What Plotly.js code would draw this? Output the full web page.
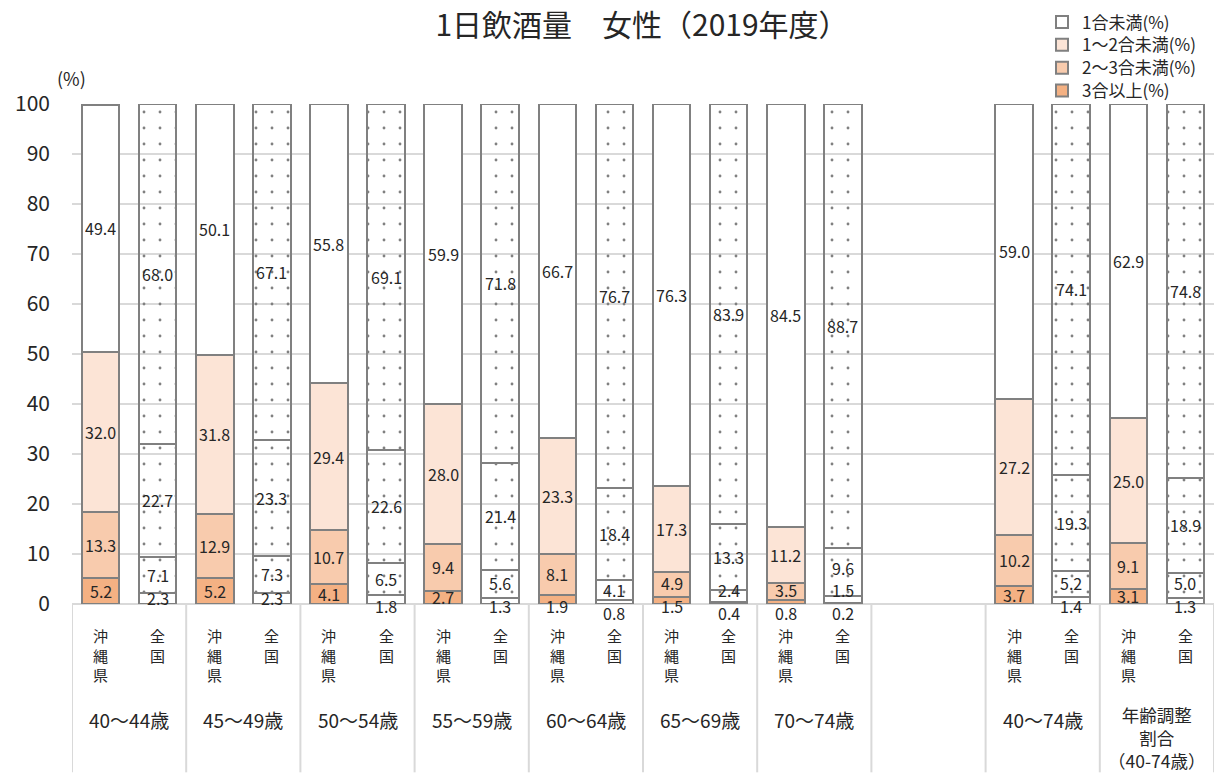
<!DOCTYPE html>
<html><head><meta charset="utf-8">
<script src="https://cdn.plot.ly/plotly-3.0.1.min.js"></script>
<style>html,body{margin:0;padding:0;background:#fff}#chart{width:1218px;height:773px}</style>
</head><body><div id="chart"></div>
<script>
const titleText = '1日飲酒量　女性（2019年度）';
const groups = ['40～44歳','45～49歳','50～54歳','55～59歳','60～64歳','65～69歳','70～74歳','','40～74歳','年齢調整<br>割合<br>（40-74歳）'];
const regions = ['沖縄県','全国'];
const seriesNames = ['3合以上(%)','2～3合未満(%)','1～2合未満(%)','1合未満(%)'];
const ge3   = [5.2,2.3,5.2,2.3,4.1,1.8,2.7,1.3,1.9,0.8,1.5,0.4,0.8,0.2,null,null,3.7,1.4,3.1,1.3];
const s2to3 = [13.3,7.1,12.9,7.3,10.7,6.5,9.4,5.6,8.1,4.1,4.9,2.4,3.5,1.5,null,null,10.2,5.2,9.1,5.0];
const s1to2 = [32.0,22.7,31.8,23.3,29.4,22.6,28.0,21.4,23.3,18.4,17.3,13.3,11.2,9.6,null,null,27.2,19.3,25.0,18.9];
const lt1   = [49.4,68.0,50.1,67.1,55.8,69.1,59.9,71.8,66.7,76.7,76.3,83.9,84.5,88.7,null,null,59.0,74.1,62.9,74.8];
const yTicks = [0,10,20,30,40,50,60,70,80,90,100];

const FONT = '"Noto Sans CJK JP", "Noto Sans", sans-serif';
const TXT = '#262626';
const colors = ['#F4B183','#F8CBAD','#FCE4D6','#FFFFFF'];
const series = [ge3, s2to3, s1to2, lt1];
const legendIds = ['legend4','legend3','legend2','legend'];

// category slots
const cats = [];
const slotRegion = [];
groups.forEach((g, gi) => regions.forEach((r, ri) => { cats.push('g' + gi + '_' + ri); slotRegion.push(ri); }));

const patterns = slotRegion.map(ri => ri === 1 ? '.' : '');

const traces = series.map((vals, si) => ({
  type: 'bar', name: seriesNames[si], x: cats, y: vals,
  width: 0.66, legend: legendIds[si],
  marker: {color: colors[si], line: {color: '#808080', width: 2},
    pattern: {shape: patterns, fgcolor: '#808080', size: 16, solidity: 0.025}},
  hoverinfo: 'skip'
}));

const yMax = 100;
// data label annotations (paper coords so that labels below the axis are still drawn)
const annotations = [];
cats.forEach((c, i) => {
  if (ge3[i] == null) return;
  let base = 0, prevY = null;
  series.forEach((vals, si) => {
    const v = vals[i];
    let y = base + v / 2;
    if (si === 0) {
      if (v < 1) y = -1.7; else if (v < 2) y = -0.3;
    } else if (prevY !== null && y < prevY + 4.5) {
      y = prevY + 4.5;
    }
    prevY = y;
    base += v;
    annotations.push({x: i, y: y / yMax, xref: 'x', yref: 'paper', text: v.toFixed(1), showarrow: false,
      font: {family: FONT, size: 16, color: TXT}, xanchor: 'center', yanchor: 'middle', height: 16});
  });
});

// category labels (vertical text, one character per line)
const plotH = 773 - 102 - 169;
const plotW = 1218 - 72 - 4;
const pxToPaper = px => (604 - px) / plotH;
cats.forEach((c, i) => {
  const gi = Math.floor(i / 2);
  if (groups[gi] === '') return;
  annotations.push({x: i, y: pxToPaper(623), xref: 'x', yref: 'paper',
    text: Array.from(regions[slotRegion[i]]).join('<br>'), showarrow: false,
    font: {family: FONT, size: 15, color: TXT}, xanchor: 'center', yanchor: 'top'});
});
groups.forEach((g, gi) => {
  if (g === '') return;
  const multi = g.includes('<br>');
  annotations.push({x: gi * 2 + 0.5, y: pxToPaper(multi ? 700 : 704), xref: 'x', yref: 'paper', text: g, showarrow: false,
    font: {family: FONT, size: multi ? 17.5 : 19, color: TXT}, xanchor: 'center', yanchor: 'top', align: 'center'});
});
annotations.push({x: (71 - 72) / plotW, y: pxToPaper(76), xref: 'paper', yref: 'paper', text: '(%)', showarrow: false,
  font: {family: FONT, size: 18, color: TXT}, xanchor: 'center', yanchor: 'middle'});

// group separator lines
const shapes = [];
for (let gi = 0; gi <= groups.length; gi++) {
  shapes.push({type: 'line', xref: 'x', yref: 'paper', x0: gi * 2 - 0.5, x1: gi * 2 - 0.5,
    y0: 0, y1: pxToPaper(773), line: {color: '#d9d9d9', width: 2}});
}

const legendBase = {xanchor: 'left', yanchor: 'middle', font: {family: FONT, size: 17, color: TXT},
  bgcolor: 'rgba(0,0,0,0)', itemwidth: 30, x: (1042 - 72) / plotW};

const layout = {
  width: 1218, height: 773,
  margin: {l: 72, r: 4, t: 102, b: 169},
  paper_bgcolor: '#fff', plot_bgcolor: '#fff',
  font: {family: FONT, color: TXT},
  title: {text: titleText, x: 642 / 1218, xref: 'container', xanchor: 'center', y: 1 - 25 / 773, yanchor: 'middle',
    font: {family: FONT, size: 30, color: TXT}},
  barmode: 'stack',
  showlegend: true,
  legend:  Object.assign({}, legendBase, {y: pxToPaper(20)}),
  legend2: Object.assign({}, legendBase, {y: pxToPaper(43)}),
  legend3: Object.assign({}, legendBase, {y: pxToPaper(66)}),
  legend4: Object.assign({}, legendBase, {y: pxToPaper(89)}),
  xaxis: {type: 'category', categoryorder: 'array', categoryarray: cats, range: [-0.5, cats.length - 0.5],
    showticklabels: false, showgrid: false, zeroline: false, showline: false, ticks: '', automargin: false},
  yaxis: {range: [0, yMax], tickvals: yTicks, ticktext: yTicks.map(String), showgrid: true, automargin: false,
    gridcolor: '#d9d9d9', gridwidth: 2, zeroline: true, zerolinecolor: '#d9d9d9', zerolinewidth: 2,
    ticks: '', ticklabelstandoff: 21, tickfont: {family: FONT, size: 21, color: TXT}},
  annotations: annotations,
  shapes: shapes
};

Plotly.newPlot('chart', traces, layout, {displayModeBar: false, staticPlot: true});
</script></body></html>
